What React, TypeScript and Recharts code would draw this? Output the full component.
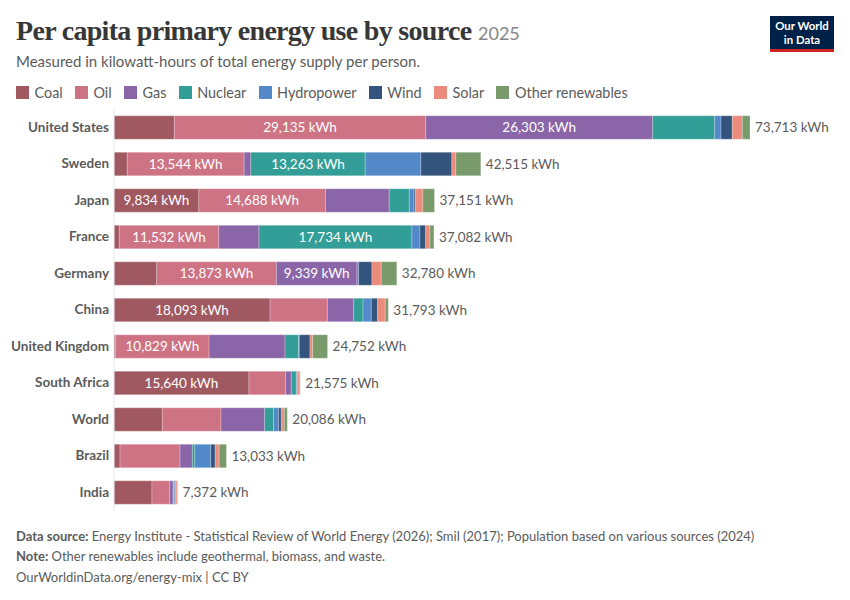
import { BarChart, Bar, XAxis, YAxis, LabelList } from "recharts"

const countries = ["United States", "Sweden", "Japan", "France", "Germany", "China", "United Kingdom", "South Africa", "World", "Brazil", "India"]
const coal = [6995, 1540, 9834, 616, 4950, 18093, 190, 15640, 5600, 700, 4400]
const oil = [29135, 13544, 14688, 11532, 13873, 6640, 10829, 4250, 6800, 6953, 2050]
const gas = [26303, 770, 7379, 4650, 9339, 3050, 8800, 660, 5060, 1430, 400]
const nuclear = [7190, 13263, 2320, 17734, 0, 1080, 1585, 580, 1040, 290, 70]
const hydropower = [730, 6450, 540, 930, 190, 960, 70, 30, 580, 1850, 130]
const wind = [1310, 3590, 150, 660, 1545, 730, 1240, 80, 310, 500, 90]
const solar = [1160, 460, 890, 500, 1080, 890, 310, 230, 350, 460, 170]
const other = [890, 2898, 1350, 460, 1803, 350, 1728, 105, 346, 850, 62]
const totals = [73713, 42515, 37151, 37082, 32780, 31793, 24752, 21575, 20086, 13033, 7372]

const SERIES = [
  { key: "coal", name: "Coal", color: "#883039" },
  { key: "oil", name: "Oil", color: "#C15065" },
  { key: "gas", name: "Gas", color: "#6D3E91" },
  { key: "nuclear", name: "Nuclear", color: "#00847E" },
  { key: "hydropower", name: "Hydropower", color: "#286BBB" },
  { key: "wind", name: "Wind", color: "#00295B" },
  { key: "solar", name: "Solar", color: "#E56E5A" },
  { key: "other", name: "Other renewables", color: "#578145" },
]

const data = countries.map((country, i) => ({
  country,
  coal: coal[i],
  oil: oil[i],
  gas: gas[i],
  nuclear: nuclear[i],
  hydropower: hydropower[i],
  wind: wind[i],
  solar: solar[i],
  other: other[i],
  total: totals[i],
}))

const LATO = "Lato, sans-serif"
const GREY = "#5b5b5b"

const kwh = (v: number) => v.toLocaleString("en-US") + " kWh"
// segments under about 9,000 kWh are too narrow to hold their label
const insideLabel = (v: number) => (v >= 9000 ? kwh(v) : "")

export default function App() {
  return (
    <div style={{ position: "absolute", left: 0, top: 0, width: 850, height: 600, background: "#fff", fontFamily: LATO, color: GREY, overflow: "hidden" }}>
      <div style={{ position: "absolute", left: 16, top: 14, whiteSpace: "nowrap", fontFamily: "'Liberation Serif', serif", fontWeight: 700, fontSize: 28, letterSpacing: -0.7, lineHeight: "34px", color: "#373737" }}>
        Per capita primary energy use by source
      </div>
      <div style={{ position: "absolute", left: 478, top: 22, whiteSpace: "nowrap", fontSize: 18, lineHeight: "22px", color: "#858585" }}>2025</div>
      <div style={{ position: "absolute", left: 16, top: 52, fontSize: 15, lineHeight: "18px", whiteSpace: "nowrap" }}>
        Measured in kilowatt-hours of total energy supply per person.
      </div>
      <div style={{ position: "absolute", left: 770, top: 16, width: 64, height: 36, background: "#002147", borderBottom: "3px solid #ce261e", boxSizing: "border-box", color: "#fff", fontSize: 11.4, fontWeight: 700, lineHeight: "14px", textAlign: "center", paddingTop: 3 }}>
        Our World
        <br />
        in Data
      </div>
      <div style={{ position: "absolute", left: 16, top: 84, display: "flex", gap: 12.3, fontSize: 14.4, lineHeight: "17px", whiteSpace: "nowrap" }}>
        {SERIES.map((s) => (
          <div key={s.key} style={{ display: "flex", alignItems: "center", gap: 5.5 }}>
            <span style={{ width: 13, height: 13, background: s.color, opacity: 0.8 }} />
            {s.name}
          </div>
        ))}
      </div>

      <div style={{ position: "absolute", left: 0, top: 0 }}>
        <BarChart
          width={850}
          height={600}
          data={data}
          layout="vertical"
          barSize={23.5}
          margin={{ top: 108.75, right: 100, bottom: 89.75, left: 0 }}
        >
          <XAxis type="number" hide domain={[0, 73713]} />
          <YAxis
            type="category"
            dataKey="country"
            width={114}
            interval={0}
            tickLine={false}
            tickSize={0}
            tickMargin={5}
            axisLine={{ stroke: "#e7e7e7" }}
            tick={{ fontSize: 13.5, fontWeight: 700, fill: GREY, fontFamily: LATO }}
          />
          {SERIES.map((s) => (
            <Bar
              key={s.key}
              dataKey={s.key}
              stackId="energy"
              fill={s.color}
              fillOpacity={0.8}
              stroke="#fff"
              strokeOpacity={0.5}
              strokeWidth={0.5}
              isAnimationActive={false}
            >
              {s.key === "other" ? (
                <LabelList dataKey="total" position="right" offset={5} formatter={kwh} style={{ fontSize: 13.5, fill: GREY, fontFamily: LATO }} />
              ) : (
                <LabelList dataKey={s.key} position="center" formatter={insideLabel} style={{ fontSize: 13.5, fill: "#fff", fontFamily: LATO }} />
              )}
            </Bar>
          ))}
        </BarChart>
      </div>

      <div style={{ position: "absolute", left: 16, top: 528, fontSize: 13, lineHeight: "16px", whiteSpace: "nowrap" }}>
        <b>Data source:</b> Energy Institute - Statistical Review of World Energy (2026); Smil (2017); Population based on various sources (2024)
      </div>
      <div style={{ position: "absolute", left: 16, top: 548, fontSize: 13, lineHeight: "16px", whiteSpace: "nowrap" }}>
        <b>Note:</b> Other renewables include geothermal, biomass, and waste.
      </div>
      <div style={{ position: "absolute", left: 16, top: 569, fontSize: 13, lineHeight: "16px", whiteSpace: "nowrap" }}>
        OurWorldinData.org/energy-mix | CC BY
      </div>
    </div>
  )
}
